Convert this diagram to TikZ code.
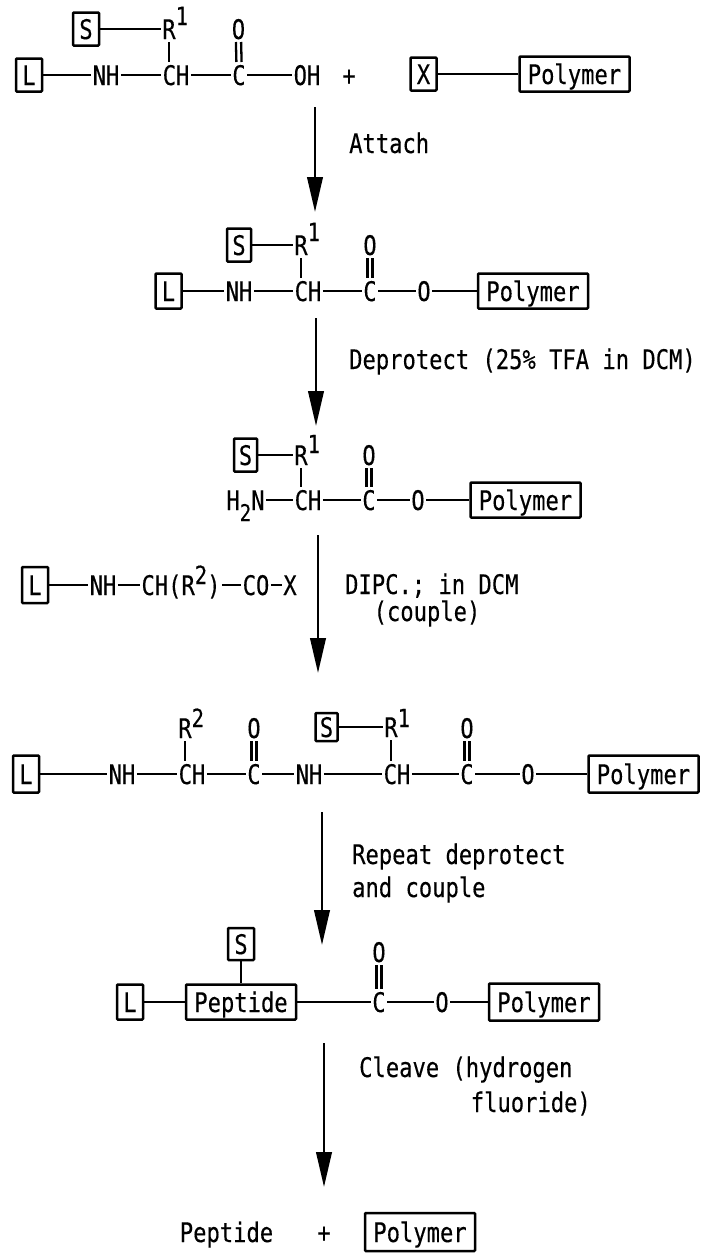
\documentclass[tikz,border=0pt]{standalone}
\usepackage{fontspec}
\usetikzlibrary{arrows.meta}
\newfontfamily\labfont[FakeStretch=0.82,FakeBold=0.3]{DejaVu Sans Mono}
\newcommand{\supsc}[2][13pt]{\rlap{\raisebox{#1}{\fontsize{25}{27}\selectfont #2}}}
\newcommand{\inlsup}[2][13pt]{\raisebox{#1}{\fontsize{25}{27}\selectfont #2}}
\tikzset{
  atom/.style={inner sep=0pt,outer xsep=1.5pt,outer ysep=3pt,text height=20pt,text depth=0pt,font=\labfont\fontsize{27}{30}\selectfont,text=black},
  label/.style={inner sep=0pt,text height=20pt,text depth=0pt,font=\labfont\fontsize{27}{30}\selectfont,text=black},
  box/.style={draw=black,line width=2.5pt,inner sep=0pt,text height=20pt,text depth=0pt,font=\labfont\fontsize{27}{30}\selectfont,text=black,rounded corners=0.8pt},
  small/.style={box,minimum width=26pt,minimum height=33pt},
  wide/.style={box,minimum width=110pt,minimum height=35pt},
  bond/.style={draw=black,line width=2.3pt},
  flow/.style={draw=black,line width=2.5pt,-{Triangle[length=35pt,width=15.5pt]}}
}
\newcommand{\dbl}[2]{%
  \draw[bond] ([xshift=-2.6pt]#1.south) -- ([xshift=-2.6pt]#2.north);
  \draw[bond] ([xshift=2.6pt]#1.south) -- ([xshift=2.6pt]#2.north);}
\newcommand{\vbond}[2]{\draw[bond] (#1.south) -- (#1.south |- #2.north);}
\begin{document}
\begin{tikzpicture}[x=1pt,y=-1pt]
\useasboundingbox (0,0) rectangle (704,1253);
% Row 1
\node[small] (aL) at (29,75) {L};
\node[atom] (aNH) at (106,75) {NH};
\node[atom] (aCH) at (176,75) {CH};
\node[atom] (aC) at (239,75) {C};
\node[atom] (aOH) at (307,75) {OH};
\node[label] (aplus) at (349,75) {+};
\node[small] (aX) at (423.5,74) {X};
\node[wide] (aP) at (574.5,74) {Polymer};
\node[small] (aS) at (86,29) {S};
\node[atom] (aR) at (169,29) {R\supsc[14pt]{1}};
\node[atom] (aO) at (238.5,29) {O};
\draw[bond] (aL) -- (aNH);
\draw[bond] (aNH) -- (aCH);
\draw[bond] (aCH) -- (aC);
\draw[bond] (aC) -- (aOH);
\draw[bond] (aX) -- (aP);
\draw[bond] (aS) -- (aR);
\vbond{aR}{aCH}
\dbl{aO}{aC}
\coordinate (f1a) at (315,107);
\coordinate (f1b) at (315,212);
\draw[flow] (f1a) -- (f1b);
\node[label,anchor=west] (t1) at (349,143) {Attach};
% Row 2
\node[small,minimum height=35pt] (bL) at (168.5,291) {L};
\node[atom] (bNH) at (239,291) {NH};
\node[atom] (bCH) at (308,291) {CH};
\node[atom] (bC) at (370,291) {C};
\node[atom] (bO) at (424,291) {O};
\node[wide] (bP) at (533,291) {Polymer};
\node[small,minimum width=24pt] (bS) at (239,245) {S};
\node[atom] (bR) at (301,245) {R\supsc[14pt]{1}};
\node[atom] (bOt) at (370,245) {O};
\draw[bond] (bL) -- (bNH);
\draw[bond] (bNH) -- (bCH);
\draw[bond] (bCH) -- (bC);
\draw[bond] (bC) -- (bO);
\draw[bond] (bO) -- (bP);
\draw[bond] (bS) -- (bR);
\vbond{bR}{bCH}
\dbl{bOt}{bC}
\coordinate (f2a) at (316,318);
\coordinate (f2b) at (316,426);
\draw[flow] (f2a) -- (f2b);
\node[label,anchor=west] (t2) at (349,359) {Deprotect (25\% TFA in DCM)};
% Row 3
\node[atom] (cN) at (245.5,500) {H\raisebox{-11pt}{\fontsize{23}{25}\selectfont 2}N};
\node[atom] (cCH) at (308,500) {CH};
\node[atom] (cC) at (369,500) {C};
\node[atom] (cO) at (418,500) {O};
\node[wide] (cP) at (525.5,500) {Polymer};
\node[small,minimum width=23pt] (cS) at (245.5,455) {S};
\node[atom] (cR) at (301,455) {R\supsc[12pt]{1}};
\node[atom] (cOt) at (369,455) {O};
\draw[bond] (cN) -- (cCH);
\draw[bond] (cCH) -- (cC);
\draw[bond] (cC) -- (cO);
\draw[bond] (cO) -- (cP);
\draw[bond] (cS) -- (cR);
\vbond{cR}{cCH}
\dbl{cOt}{cC}
\coordinate (f3a) at (318,535);
\coordinate (f3b) at (318,673);
\draw[flow] (f3a) -- (f3b);
\node[small,minimum height=36pt] (dL) at (35,585) {L};
\node[atom] (dNH) at (103,585) {NH};
\node[atom] (dCH) at (181,585) {CH(R\inlsup[11pt]{2})};
\node[atom] (dCO) at (256,585) {CO};
\node[atom] (dX) at (290,585) {X};
\draw[bond] (dL) -- (dNH);
\draw[bond] (dNH) -- (dCH);
\draw[bond] (dCH) -- (dCO);
\draw[bond] (dCO) -- (dX);
\node[label,anchor=west] (t3) at (345,584) {DIPC.; in DCM};
\node[label] (t3b) at (427,611) {(couple)};
% Row 4
\node[small,minimum height=37pt] (eL) at (26,774) {L};
\node[atom] (eNH) at (122,774) {NH};
\node[atom] (eCH) at (192,774) {CH};
\node[atom] (eC) at (254,774) {C};
\node[atom] (eNHb) at (309,774) {NH};
\node[atom] (eCHb) at (397,774) {CH};
\node[atom] (eCb) at (467,774) {C};
\node[atom] (eO) at (528,774) {O};
\node[wide,minimum height=37pt] (eP) at (643.5,774) {Polymer};
\node[atom] (eR) at (185,728) {R\supsc[11pt]{2}};
\node[atom] (eOt) at (254,728) {O};
\node[small,minimum width=22pt,minimum height=28pt] (eS) at (326.5,727) {S};
\node[atom] (eRb) at (391,727) {R\supsc[10pt]{1}};
\node[atom] (eObt) at (467,728) {O};
\draw[bond] (eL) -- (eNH);
\draw[bond] (eNH) -- (eCH);
\draw[bond] (eCH) -- (eC);
\draw[bond] (eC) -- (eNHb);
\draw[bond] (eNHb) -- (eCHb);
\draw[bond] (eCHb) -- (eCb);
\draw[bond] (eCb) -- (eO);
\draw[bond] (eO) -- (eP);
\draw[bond] (eS) -- (eRb);
\vbond{eR}{eCH}
\vbond{eRb}{eCHb}
\dbl{eOt}{eC}
\dbl{eObt}{eCb}
\coordinate (f4a) at (322,812);
\coordinate (f4b) at (322,945);
\draw[flow] (f4a) -- (f4b);
\node[label,anchor=west] (t4) at (352,854) {Repeat deprotect};
\node[label,anchor=west] (t4b) at (352,887) {and couple};
% Row 5
\node[small,minimum height=35pt] (gL) at (130,1002) {L};
\node[wide] (gPe) at (241,1002) {Peptide};
\node[small,minimum height=32pt] (gS) at (241,944) {S};
\node[atom] (gC) at (379,1002) {C};
\node[atom] (gO) at (442,1002) {O};
\node[wide,minimum height=37pt] (gP) at (544,1002) {Polymer};
\node[atom] (gOt) at (379,952) {O};
\draw[bond] (gL) -- (gPe);
\draw[bond] (gPe) -- (gC);
\draw[bond] (gC) -- (gO);
\draw[bond] (gO) -- (gP);
\draw[bond] (gS) -- (gPe);
\dbl{gOt}{gC}
\coordinate (f5a) at (324,1043);
\coordinate (f5b) at (324,1187);
\draw[flow] (f5a) -- (f5b);
\node[label,anchor=west] (t5) at (359,1067) {Cleave (hydrogen};
\node[label,anchor=east] (t5b) at (591,1102) {fluoride)};
% Bottom
\node[label] (hPe) at (226.5,1232) {Peptide};
\node[label] (hplus) at (324,1232) {+};
\node[wide,minimum height=38pt] (hP) at (420,1232) {Polymer};
\end{tikzpicture}
\end{document}
